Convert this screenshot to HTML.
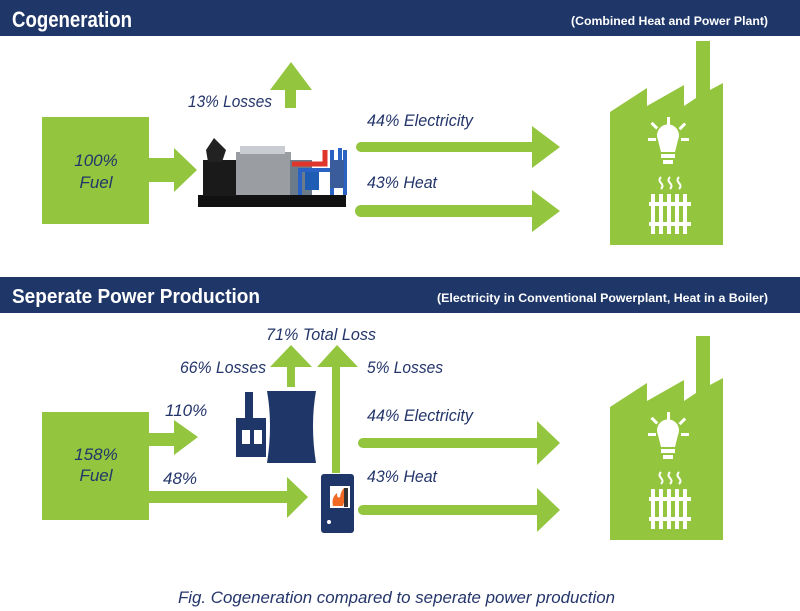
<!DOCTYPE html>
<html><head><meta charset="utf-8"><style>
html,body{margin:0;padding:0;background:#fff}
svg{display:block}
.lbl{font-family:"Liberation Sans",sans-serif;font-style:italic;fill:#23356a;font-size:17px}
.hd{font-family:"Liberation Sans",sans-serif;font-weight:bold;fill:#fff}
</style></head><body>
<svg width="800" height="611" viewBox="0 0 800 611" xmlns="http://www.w3.org/2000/svg">
<defs>
<g id="factory">
<path d="M610,112 L647,88 L647,106 L684,85 L684,106 L696,98 L696,41 L710,41 L710,90 L723,83 L723,245 L610,245 Z" fill="#93c53e"/>
<g fill="#fff">
<path d="M658,140 a11,11 0 1 1 20,0 l-3,12 h-14 Z"/>
<rect x="661" y="154" width="14" height="4"/>
<rect x="663" y="160" width="10" height="4"/>
<rect x="667" y="117" width="3" height="8"/>
<rect x="648" y="138" width="8" height="3"/>
<rect x="681" y="138" width="8" height="3"/>
<rect x="653" y="122" width="3" height="8" transform="rotate(-45 654 126)"/>
<rect x="681" y="122" width="3" height="8" transform="rotate(45 682 126)"/>
<rect x="649" y="202" width="42" height="4"/>
<rect x="649" y="222" width="42" height="4"/>
<rect x="651" y="194" width="4" height="40"/><rect x="659" y="194" width="4" height="40"/>
<rect x="667" y="194" width="4" height="40"/><rect x="675" y="194" width="4" height="40"/>
<rect x="683" y="194" width="4" height="40"/>
</g>
<g stroke="#fff" stroke-width="2" fill="none">
<path d="M661,177 q-3,3 0,6 q3,3 0,6"/><path d="M670,177 q-3,3 0,6 q3,3 0,6"/><path d="M679,177 q-3,3 0,6 q3,3 0,6"/>
</g>
</g>
</defs>

<rect x="0" y="0" width="800" height="36" fill="#1f3768"/>
<text class="hd" x="12" y="27" font-size="22" textLength="120" lengthAdjust="spacingAndGlyphs">Cogeneration</text>
<text class="hd" x="571" y="25" font-size="12" textLength="197" lengthAdjust="spacingAndGlyphs">(Combined Heat and Power Plant)</text>

<rect x="42" y="117" width="107" height="107" fill="#93c53e"/>
<text class="lbl" x="96" y="166" text-anchor="middle">100%</text>
<text class="lbl" x="96" y="188" text-anchor="middle">Fuel</text>
<path d="M149,158 H174 V148 L197,170 L174,192 V182 H149 Z" fill="#93c53e"/>

<g>
<rect x="198" y="195" width="148" height="12" fill="#111"/>
<rect x="203" y="160" width="33" height="36" fill="#1a1a1a"/>
<path d="M206,150 L214,138 L226,150 L222,162 L208,162 Z" fill="#222"/>
<rect x="236" y="152" width="55" height="43" fill="#9a9ea3"/>
<rect x="240" y="146" width="45" height="8" fill="#c9ccd0"/>
<rect x="290" y="160" width="22" height="35" fill="#6c7b8a"/>
<path d="M292,164 H325 V150" stroke="#e0352b" stroke-width="5" fill="none"/>
<rect x="305" y="168" width="14" height="22" fill="#1e5db3"/>
<path d="M300,195 V170 H340 V148 M332,195 V150 M345,195 V150" stroke="#2a63c4" stroke-width="4" fill="none"/>
<rect x="330" y="160" width="14" height="28" fill="#3a5c9b"/>
</g>

<path d="M285,108 V90 H270 L291,62 L312,90 H296 V108 Z" fill="#93c53e"/>
<text class="lbl" x="188" y="107" textLength="84" lengthAdjust="spacingAndGlyphs">13% Losses</text>

<path d="M361,142 H532 V126 L560,147 L532,168 V152 H361 a5,5 0 0 1 0,-10 Z" fill="#93c53e"/>
<text class="lbl" x="367" y="126" textLength="106" lengthAdjust="spacingAndGlyphs">44% Electricity</text>
<path d="M361,205 H532 V190 L560,211 L532,232 V217 H361 a6,6 0 0 1 0,-12 Z" fill="#93c53e"/>
<text class="lbl" x="367" y="188" textLength="70" lengthAdjust="spacingAndGlyphs">43% Heat</text>

<use href="#factory"/>

<rect x="0" y="277" width="800" height="36" fill="#1f3768"/>
<text class="hd" x="12" y="303" font-size="20" textLength="248" lengthAdjust="spacingAndGlyphs">Seperate Power Production</text>
<text class="hd" x="437" y="302" font-size="12" textLength="331" lengthAdjust="spacingAndGlyphs">(Electricity in Conventional Powerplant, Heat in a Boiler)</text>

<rect x="42" y="412" width="107" height="108" fill="#93c53e"/>
<text class="lbl" x="96" y="460" text-anchor="middle">158%</text>
<text class="lbl" x="96" y="481" text-anchor="middle">Fuel</text>

<path d="M149,433 H174 V420 L198,437 L174,455 V446 H149 Z" fill="#93c53e"/>
<text class="lbl" x="165" y="416">110%</text>
<path d="M149,491 H287 V477 L308,497 L287,518 V503 H149 Z" fill="#93c53e"/>
<text class="lbl" x="163" y="484">48%</text>

<g fill="#1f3768">
<path d="M267,391 H316 Q310,425 316,463 H267 Q273,425 267,391 Z"/>
<rect x="236" y="418" width="30" height="39"/>
<rect x="245" y="392" width="8" height="28"/>
<rect x="242" y="430" width="8" height="14" fill="#fff"/>
<rect x="254" y="430" width="8" height="14" fill="#fff"/>
</g>

<path d="M287,387 V367 H270 L291,345 L312,367 H295 V387 Z" fill="#93c53e"/>
<path d="M332,473 V367 H317 L337,345 L358,367 H340 V473 Z" fill="#93c53e"/>
<text class="lbl" x="266" y="340" textLength="110" lengthAdjust="spacingAndGlyphs">71%  Total Loss</text>
<text class="lbl" x="180" y="373" textLength="86" lengthAdjust="spacingAndGlyphs">66% Losses</text>
<text class="lbl" x="367" y="373" textLength="76" lengthAdjust="spacingAndGlyphs">5% Losses</text>

<g>
<rect x="321" y="474" width="33" height="59" rx="3" fill="#1f3768"/>
<rect x="330" y="486" width="20" height="22" fill="#fff"/>
<path d="M333,506 q-2,-8 4,-13 q0,6 3,4 q1,-6 4,-9 q2,10 -1,18 Z" fill="#f06a23"/>
<rect x="344" y="488" width="4" height="19" fill="#333"/>
<circle cx="329" cy="522" r="2" fill="#fff"/>
</g>

<path d="M363,438 H537 V421 L560,443 L537,465 V448 H363 a5,5 0 0 1 0,-10 Z" fill="#93c53e"/>
<text class="lbl" x="367" y="421" textLength="106" lengthAdjust="spacingAndGlyphs">44% Electricity</text>
<path d="M363,505 H537 V488 L560,510 L537,532 V515 H363 a5,5 0 0 1 0,-10 Z" fill="#93c53e"/>
<text class="lbl" x="367" y="482" textLength="70" lengthAdjust="spacingAndGlyphs">43% Heat</text>

<use href="#factory" transform="translate(0,295)"/>

<text class="lbl" x="178" y="603" font-size="17" textLength="437" lengthAdjust="spacingAndGlyphs">Fig. Cogeneration compared to seperate power production</text>
</svg>
</body></html>
